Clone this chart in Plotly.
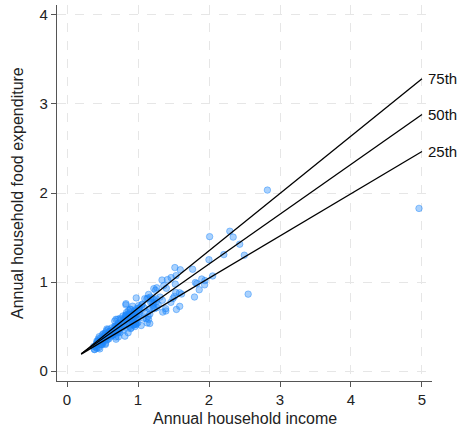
import plotly.graph_objects as go

income = [420.1577, 541.4117, 901.1575, 639.0802, 750.8756, 945.7989, 829.3979, 979.1648, 1309.8789, 1492.3987, 502.8390, 616.7168, 790.9225, 555.8786, 713.4412, 838.7561, 535.0766, 596.4408, 924.5619, 487.7583, 692.6397, 997.8770, 506.9995, 654.1587, 933.9193, 433.6813, 587.5962, 896.4746, 454.4782, 584.9989, 800.7990, 502.4369, 713.5197, 906.0006, 880.5969, 796.8289, 854.8791, 1167.3716, 523.8000, 670.7792, 377.0584, 851.5430, 1121.0937, 625.5179, 805.5377, 558.5812, 884.4005, 1257.4989, 2051.1789, 1466.3330, 730.0989, 2432.3910, 940.9218, 1177.8547, 1222.5939, 1519.5811, 687.6638, 953.1192, 953.1192, 953.1192, 939.0418, 1283.4025, 1511.5789, 1342.5821, 511.7980, 689.7988, 1532.3074, 1056.0808, 387.3195, 387.3195, 410.9987, 499.7510, 832.7554, 614.9986, 887.4658, 1595.1611, 1807.9520, 541.2006, 1057.6767, 800.7990, 1245.6964, 1201.0002, 634.4002, 956.2315, 1148.6010, 1768.8236, 2822.5330, 922.3548, 2293.1920, 627.4726, 889.9809, 1162.2000, 1197.0794, 530.7972, 1142.1526, 1088.0039, 484.6612, 1536.0201, 678.8974, 671.8802, 690.4683, 860.6948, 873.3095, 894.4598, 1148.6470, 926.8762, 839.0414, 829.4974, 1264.0043, 1937.9771, 698.8317, 920.4199, 1897.5711, 891.6824, 889.6784, 1221.4818, 544.5991, 1031.4491, 1462.9497, 830.4353, 975.0415, 1337.9983, 867.6427, 725.7459, 989.0056, 1525.0005, 672.1960, 923.3977, 472.3215, 590.7601, 831.7983, 1139.4945, 507.5169, 576.1972, 696.5991, 650.8180, 949.5802, 497.1193, 570.1674, 724.7306, 408.3399, 638.6713, 1225.7890, 715.3701, 800.4708, 975.5974, 1613.7565, 608.5019, 958.6634, 835.9426, 1024.8177, 1006.4353, 726.0000, 494.4174, 776.5958, 415.4407, 581.3599, 643.3571, 2551.6615, 1795.3226, 1165.7734, 815.6212, 1264.2066, 1095.4056, 447.4479, 1178.9742, 975.8023, 1017.8522, 423.8798, 558.7767, 943.2487, 1348.3002, 2340.6174, 587.1792, 1540.9741, 1115.8481, 1044.6843, 1389.7929, 2497.7860, 1585.3809, 1862.0438, 2008.8546, 697.3099, 571.2517, 598.3465, 461.0977, 977.1107, 883.9849, 718.3594, 543.8971, 1587.3480, 4957.8130, 969.6838, 419.9980, 561.9990, 689.5988, 1398.5203, 820.8168, 875.1716, 1392.4499, 1256.3174, 1362.8590, 1999.2552, 1209.4730, 1125.0356, 1827.4010, 1014.1540, 880.3944, 873.7375, 951.4432, 473.0022, 601.0030, 713.9979, 829.2984, 959.7953, 1212.9613, 958.8743, 1129.4431, 1943.0419, 539.6388, 463.5996, 562.6400, 736.7584, 1415.4461, 2208.7897, 636.0009, 759.4010, 1078.8382, 748.6413, 987.6417, 788.0961, 1020.0225, 1230.9235, 440.5174, 743.0772]

foodexp = [255.8394, 310.9587, 485.6800, 402.9974, 495.5608, 633.7978, 630.7566, 700.4409, 830.9586, 815.3602, 338.0014, 412.3613, 520.0006, 452.4015, 512.7201, 658.8395, 392.5995, 443.5586, 640.1164, 333.8394, 466.9583, 543.3969, 317.7198, 424.3209, 518.9617, 338.0014, 419.6412, 476.3200, 386.3602, 423.2783, 503.3572, 354.6389, 497.3182, 588.5195, 654.5971, 550.7274, 528.3770, 640.4813, 401.3204, 435.9990, 276.5606, 588.3488, 664.1978, 444.8602, 462.8995, 377.7792, 553.1504, 810.8962, 1067.9541, 1049.8788, 522.7012, 1424.8047, 517.9196, 830.9586, 925.5795, 1162.0024, 383.4580, 621.1173, 621.1173, 621.1173, 548.6002, 745.2353, 837.8005, 795.3402, 418.5976, 508.7974, 883.2780, 742.5276, 242.3202, 242.3202, 266.0010, 408.4992, 614.7588, 385.3184, 515.6200, 1138.1620, 993.9630, 299.1993, 750.3202, 572.0807, 907.3969, 811.5776, 427.7975, 649.9985, 860.6002, 1143.4211, 2032.6792, 590.6183, 1570.3911, 483.4800, 600.4804, 696.2021, 774.7962, 390.5984, 612.5619, 708.7622, 296.9192, 1071.4627, 496.5976, 503.3974, 357.6411, 430.3376, 624.6990, 582.5413, 580.2215, 543.8807, 588.6372, 627.9999, 712.1012, 968.3949, 482.5816, 593.1694, 1033.5658, 693.6795, 693.6795, 761.2791, 361.3981, 628.4522, 771.4486, 757.1187, 821.5970, 1022.3202, 679.4407, 538.7491, 679.9981, 977.0033, 561.2015, 728.3997, 372.3186, 361.5210, 620.8006, 819.9964, 360.8780, 395.7608, 442.0001, 404.0384, 670.7993, 297.5702, 353.4882, 383.9376, 284.8008, 431.1000, 801.3518, 448.4513, 577.9111, 570.5210, 865.3205, 444.5578, 680.4198, 576.2779, 708.4787, 734.2356, 433.0010, 327.4188, 485.5198, 305.4390, 468.0008, 459.8177, 863.9199, 831.4407, 534.7610, 392.0502, 934.9752, 813.3081, 263.7100, 769.0838, 630.5863, 645.9874, 319.5584, 348.4518, 614.5068, 662.0096, 1504.3708, 406.2180, 692.1689, 588.1371, 511.2609, 700.5600, 1301.1451, 879.0660, 912.8851, 1509.7812, 484.0605, 399.6703, 444.1001, 248.8101, 527.8014, 500.6313, 436.8107, 374.7990, 726.3921, 1827.2000, 523.4911, 334.9998, 473.2009, 581.2029, 929.7540, 591.1974, 637.5483, 674.9509, 776.7589, 959.5170, 1250.9643, 737.8201, 810.6772, 983.0009, 708.8968, 633.1200, 631.7982, 608.6419, 300.9999, 415.7901, 581.5997, 743.3690, 531.1032, 707.5380, 500.1104, 540.3400, 1015.9276, 427.4993, 345.2692, 384.2232, 498.1271, 1027.0666, 1308.0312, 401.6403, 577.8905, 593.1721, 592.6103, 585.6105, 618.5468, 667.6911, 700.1301, 360.0298, 429.2496]

# quantile regression fits (in thousands)
quantile_labels = ["25th", "50th", "75th"]
intercepts = [0.0955, 0.0815, 0.0624]
slopes = [0.474, 0.560, 0.644]
line_x = [0.2, 5.0]

x_title = "Annual household income"
y_title = "Annual household food expenditure"

n = min(len(income), len(foodexp))
xs = [v / 1000 for v in income[:n]]
ys = [v / 1000 for v in foodexp[:n]]

fig = go.Figure()
fig.add_trace(go.Scatter(
    x=xs, y=ys, mode="markers",
    marker=dict(size=6.5, color="rgba(30,135,250,0.38)",
                line=dict(width=1, color="rgba(30,135,250,0.45)")),
    showlegend=False, hoverinfo="skip", cliponaxis=False))

for lab, a, b in zip(quantile_labels, intercepts, slopes):
    ly = [a + b * x for x in line_x]
    fig.add_trace(go.Scatter(x=line_x, y=ly, mode="lines",
                             line=dict(color="black", width=1.3),
                             showlegend=False, hoverinfo="skip"))
    fig.add_annotation(x=line_x[-1], y=ly[-1], text=lab, showarrow=False,
                       xanchor="left", yanchor="middle", xshift=4,
                       font=dict(size=15, color="#111111"))

fig.add_annotation(xref="paper", yref="paper", x=0.5, y=0, yshift=-37,
                   text=x_title, showarrow=False, xanchor="center", yanchor="middle",
                   font=dict(size=16, color="#222222"))
fig.add_annotation(xref="paper", yref="paper", x=0, y=0.5, xshift=-40,
                   text=y_title, showarrow=False, xanchor="center", yanchor="middle",
                   textangle=-90, font=dict(size=16, color="#222222"))

axis_common = dict(
    showline=True, linecolor="#555555", linewidth=1.3,
    ticks="outside", ticklen=5, tickcolor="#555555",
    showgrid=True, gridcolor="#e6e6e6", griddash="dash", gridwidth=1,
    zeroline=False, tickfont=dict(size=15, color="#222222"),
    mirror=False, automargin=False,
)

fig.update_xaxes(range=[-0.141, 5.141], tickvals=[0, 1, 2, 3, 4, 5], **axis_common)
fig.update_yaxes(range=[-0.112, 4.112], tickvals=[0, 1, 2, 3, 4], **axis_common)

fig.update_layout(
    width=459, height=429,
    margin=dict(l=57, r=27, t=5, b=48, autoexpand=False),
    plot_bgcolor="white", paper_bgcolor="white",
    font=dict(family="Liberation Sans, Arial, sans-serif"),
)

fig.write_html("out.html", config={"displayModeBar": False},
               post_script="document.body.style.margin='0';")
